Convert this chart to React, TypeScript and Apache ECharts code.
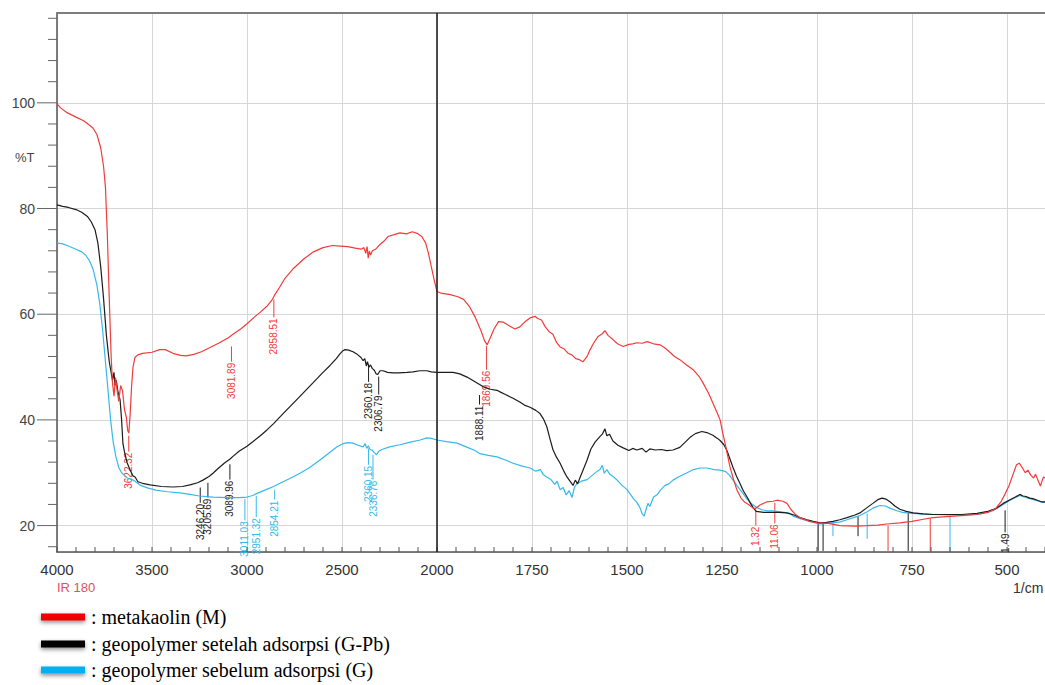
import React, { useEffect, useRef } from "react";
import * as echarts from "echarts";

// ---- axis labels ----
const xTickLabels = ["4000", "3500", "3000", "2500", "2000", "1750", "1500", "1250", "1000", "750", "500"];
const yTickLabels = [20, 40, 60, 80, 100];
const yRange = [15, 117];
const xEndWavenumber = 400;

// ---- spectra: [wavenumber (1/cm), %T] ----
const metakaolin: [number, number][] = [
  [4000, 99.8], [3980, 99.0], [3950, 98.2], [3900, 97.3], [3860, 96.6], [3830, 95.8], [3810, 95.2], [3790, 94.0],
  [3770, 91.5], [3755, 88], [3745, 84], [3735, 75], [3725, 63], [3715, 52], [3708, 47], [3700, 44.5], [3692, 48],
  [3685, 46], [3675, 43.5], [3665, 46.5], [3655, 45.5], [3645, 42], [3635, 40.5], [3628, 38], [3622, 37.5],
  [3615, 41], [3608, 46], [3600, 50], [3590, 51.8], [3575, 52.3], [3550, 52.6], [3500, 52.8], [3460, 53.3],
  [3430, 53.3], [3390, 52.6], [3350, 52.2], [3320, 52.1], [3280, 52.4], [3240, 52.9], [3200, 53.6], [3150, 54.5],
  [3100, 55.5], [3070, 56.3], [3030, 57.3], [3000, 58.2], [2960, 59.5], [2930, 60.4], [2895, 61.5], [2870, 62.6],
  [2855, 63.6], [2830, 65], [2800, 66.8], [2760, 68.5], [2700, 70.5], [2650, 71.8], [2600, 72.6], [2550, 73.0],
  [2510, 72.9], [2470, 72.8], [2430, 72.5], [2400, 72.3], [2385, 72.6], [2375, 71.5], [2368, 72.8], [2362, 70.6],
  [2356, 72.0], [2350, 71.2], [2340, 72.0], [2320, 72.4], [2300, 73.2], [2280, 73.8], [2258, 74.7], [2230, 75.0],
  [2195, 75.4], [2160, 75.2], [2130, 75.6], [2105, 75.3], [2080, 74.7], [2060, 73.5], [2045, 71.5], [2030, 69],
  [2015, 66.5], [2000, 64.3],
  [1990, 64.0], [1965, 63.7], [1945, 63.3], [1930, 62.8], [1915, 61.5], [1900, 59.5], [1885, 57], [1875, 55],
  [1868, 54.2], [1860, 55.5], [1850, 57.2], [1838, 58.6], [1825, 58.5], [1810, 57.8], [1795, 57.2], [1782, 57.6],
  [1768, 58.6], [1755, 59.3], [1742, 59.6], [1735, 59.2], [1725, 58.9], [1715, 57.6], [1705, 56.7], [1695, 56.2],
  [1685, 54.6], [1676, 53.8], [1665, 53.4], [1655, 52.6], [1645, 52.3], [1635, 51.6], [1625, 51.4], [1616, 51.0],
  [1605, 52.0], [1597, 53.3], [1588, 54.5], [1576, 55.8], [1565, 56.3], [1558, 56.9], [1550, 56.0], [1537, 55.2],
  [1525, 54.4], [1510, 53.9], [1495, 54.3], [1485, 54.4], [1474, 54.6], [1460, 54.5], [1447, 54.8], [1430, 54.4],
  [1413, 54.2], [1400, 53.6], [1387, 52.8], [1375, 52.0], [1361, 51.4], [1345, 50.5], [1326, 49.5], [1310, 48.2],
  [1300, 47], [1285, 45], [1274, 43.2], [1262, 41.2], [1255, 40], [1248, 37.5], [1242, 35.6], [1235, 33.2],
  [1229, 31.1], [1220, 28.8], [1211, 26.8], [1200, 25.2], [1190, 24.4], [1180, 24.0], [1170, 23.4], [1163, 23.2],
  [1150, 23.9], [1132, 24.5], [1116, 24.6], [1105, 24.8], [1090, 24.6], [1079, 24.2], [1068, 23.0], [1058, 22.2],
  [1045, 21.5], [1020, 20.8], [1000, 20.5], [970, 20.4], [940, 20.0], [900, 19.9], [868, 20.0], [840, 20.1],
  [816, 20.3], [782, 20.5], [750, 20.8], [720, 21.2], [695, 21.5], [660, 21.7], [620, 21.9], [579, 22.1],
  [550, 22.5], [530, 23.2], [515, 24.6], [505, 26], [495, 27.5], [485, 29.5], [475, 31.5], [468, 31.8],
  [460, 31.0], [452, 30.0], [445, 30.5], [437, 29.5], [430, 29.0], [425, 29.7], [418, 28.5], [412, 27.5],
  [408, 28.4], [404, 29.2], [400, 29.0],
];

const geoAfter: [number, number][] = [
  [4000, 80.7], [3970, 80.4], [3940, 80.2], [3900, 79.8], [3870, 79.3], [3840, 78.5], [3820, 77.5], [3800, 76],
  [3785, 73.5], [3770, 69], [3755, 63], [3740, 56], [3725, 51], [3715, 49], [3708, 47.5], [3700, 49], [3695, 46.5],
  [3688, 47.5], [3680, 45.5], [3668, 43.8], [3660, 40], [3653, 35.5], [3645, 34], [3632, 32], [3615, 30.5],
  [3600, 29.4], [3589, 29.2], [3574, 28.3], [3550, 28.0], [3510, 27.7], [3450, 27.4], [3389, 27.3], [3340, 27.4],
  [3300, 27.7], [3260, 28.1], [3232, 28.6], [3200, 29.3], [3179, 29.9], [3158, 30.6], [3120, 31.8], [3089, 32.6],
  [3074, 33.1], [3040, 34.1], [3000, 35.0], [2968, 35.9], [2930, 37.0], [2895, 38.1], [2860, 39.3], [2820, 40.8],
  [2774, 42.5], [2720, 44.5], [2653, 47.0], [2600, 49.0], [2563, 50.3], [2530, 51.6], [2511, 52.5], [2495, 53.1],
  [2484, 53.3], [2465, 53.2], [2442, 52.9], [2420, 52.4], [2400, 51.8], [2389, 51.2], [2380, 51.6], [2372, 50.2],
  [2366, 51.0], [2358, 50.0], [2350, 50.4], [2340, 49.7], [2330, 49.4], [2320, 48.7], [2312, 48.6], [2300, 49.3],
  [2284, 49.3], [2260, 49.0], [2230, 48.9], [2200, 48.9], [2158, 49.0], [2126, 49.1], [2090, 49.3], [2053, 49.3],
  [2030, 49.1], [2000, 49.0],
  [1975, 49.0], [1958, 49.0], [1940, 48.7], [1921, 48.1], [1900, 47.2], [1879, 46.3], [1860, 45.8], [1842, 45.6],
  [1834, 45.3], [1820, 44.8], [1800, 44.1], [1782, 43.4], [1770, 42.8], [1755, 42.4], [1740, 41.8], [1729, 41.2],
  [1720, 40.2], [1711, 38.7], [1703, 36.5], [1695, 34.4], [1686, 33.0], [1676, 31.8], [1667, 30.4], [1658, 29.2],
  [1650, 28.4], [1642, 27.6], [1636, 28.6], [1630, 27.9], [1624, 29.0], [1615, 30.6], [1605, 32.4], [1595, 34.5],
  [1584, 35.8], [1572, 36.8], [1565, 37.3], [1558, 38.3], [1553, 37.0], [1546, 37.3], [1537, 36.0], [1524, 35.2],
  [1510, 34.7], [1495, 34.2], [1485, 34.6], [1474, 34.3], [1460, 34.6], [1450, 33.9], [1440, 34.5], [1425, 34.3],
  [1410, 34.4], [1395, 34.2], [1379, 34.3], [1361, 34.8], [1348, 35.7], [1334, 36.7], [1320, 37.4], [1303, 37.8],
  [1290, 37.6], [1274, 37.1], [1262, 36.5], [1255, 36.1], [1245, 35.3], [1237, 34.2], [1229, 32.6], [1221, 31.0],
  [1212, 29.4], [1203, 28.0], [1194, 26.6], [1184, 25.4], [1175, 24.2], [1168, 23.4], [1160, 22.7], [1140, 22.5],
  [1120, 22.5], [1100, 22.5], [1080, 22.4], [1060, 22.0], [1045, 21.5], [1026, 21.1], [1010, 20.8], [992, 20.5],
  [975, 20.6], [958, 20.8], [940, 21.1], [921, 21.5], [900, 22.0], [887, 22.4], [870, 23.3], [853, 24.2],
  [840, 24.9], [829, 25.2], [818, 25.0], [808, 24.5], [795, 23.7], [782, 23.1], [765, 22.7], [747, 22.4],
  [720, 22.2], [695, 22.1], [660, 22.1], [620, 22.1], [579, 22.3], [550, 22.7], [530, 23.2], [510, 24.2],
  [492, 24.9], [478, 25.4], [466, 25.9], [458, 25.6], [450, 25.5], [440, 25.2], [432, 25.1], [420, 24.8],
  [410, 24.5], [400, 24.5],
];

const geoBefore: [number, number][] = [
  [4000, 73.5], [3970, 73.3], [3940, 72.9], [3900, 72.3], [3870, 71.8], [3850, 71.2], [3830, 70.2], [3810, 68.5],
  [3790, 65.5], [3775, 62], [3760, 57], [3745, 51], [3730, 45], [3718, 40], [3705, 36], [3690, 33], [3675, 31],
  [3660, 30], [3645, 29.5], [3630, 29.0], [3610, 28.8], [3600, 28.6], [3589, 28.4], [3560, 27.6], [3520, 27.1],
  [3480, 26.7], [3420, 26.4], [3353, 26.2], [3300, 25.9], [3250, 25.6], [3179, 25.4], [3100, 25.3], [3040, 25.3],
  [3000, 25.4], [2970, 25.7], [2947, 26.1], [2900, 26.8], [2860, 27.4], [2826, 28.0], [2780, 28.8], [2721, 29.9],
  [2670, 31.0], [2616, 32.4], [2570, 33.7], [2526, 34.9], [2495, 35.5], [2470, 35.7], [2442, 35.6], [2415, 35.2],
  [2389, 34.9], [2378, 35.5], [2370, 34.6], [2362, 35.1], [2352, 34.4], [2342, 34.3], [2330, 33.8], [2318, 33.4],
  [2308, 34.0], [2290, 34.4], [2250, 34.9], [2195, 35.3], [2140, 35.8], [2089, 36.2], [2053, 36.6], [2030, 36.5],
  [2000, 36.2],
  [1975, 35.9], [1947, 35.6], [1920, 34.8], [1900, 34.2], [1887, 33.6], [1865, 33.3], [1842, 33.0], [1820, 32.4],
  [1800, 31.8], [1778, 31.3], [1755, 30.9], [1740, 30.3], [1728, 30.6], [1720, 29.6], [1711, 29.2], [1700, 28.7],
  [1690, 27.8], [1684, 28.4], [1676, 26.8], [1668, 27.2], [1660, 25.8], [1652, 26.6], [1645, 25.3], [1638, 27.3],
  [1632, 27.9], [1620, 28.4], [1605, 28.7], [1590, 29.6], [1578, 30.3], [1571, 30.6], [1565, 31.4], [1560, 29.9],
  [1553, 30.6], [1545, 29.7], [1535, 29.2], [1526, 28.6], [1513, 27.6], [1500, 26.8], [1490, 25.8], [1482, 25.0],
  [1474, 24.4], [1466, 23.4], [1460, 22.2], [1455, 21.8], [1450, 23.0], [1445, 24.2], [1440, 23.6], [1430, 25.4],
  [1420, 25.9], [1413, 26.6], [1400, 27.6], [1390, 27.9], [1379, 28.6], [1365, 29.2], [1342, 30.0], [1325, 30.6],
  [1308, 30.9], [1290, 30.9], [1270, 30.6], [1255, 30.5], [1240, 30.2], [1230, 29.5], [1221, 28.6], [1210, 27.5],
  [1195, 26.1], [1184, 25.0], [1170, 24.0], [1158, 23.4], [1145, 23.0], [1132, 22.8], [1116, 22.8], [1095, 22.6],
  [1071, 22.3], [1063, 21.8], [1040, 21.2], [1018, 20.8], [992, 20.3], [970, 20.4], [939, 20.7], [921, 21.1],
  [900, 21.6], [887, 21.9], [868, 22.6], [850, 23.4], [834, 23.8], [820, 23.7], [808, 23.3], [790, 22.8],
  [775, 22.5], [763, 22.4], [730, 22.2], [695, 22.1], [650, 22.0], [605, 22.0], [570, 22.2], [537, 22.8],
  [510, 24.0], [492, 24.8], [478, 25.3], [466, 25.7], [455, 25.4], [440, 25.1], [425, 24.8], [410, 24.5],
  [400, 24.4],
];

// ---- peak picks: [label, wavenumber, %T at line top, %T at label top, series] ----
const peakPicks: [string, number, number, number, string][] = [
  ["3622.32", 3622.32, 37.0, 34.0, "M"],
  ["3081.89", 3081.89, 53.9, 51.0, "M"],
  ["2858.51", 2858.51, 62.8, 59.4, "M"],
  ["1869.56", 1869.56, 54.0, 49.5, "M"],
  ["1.32", 1161, 23.0, 20.0, "M"],
  ["11.06", 1111, 24.3, 20.4, "M"],
  ["", 813, 20.0, 15.2, "M"],
  ["", 702, 21.3, 15.2, "M"],
  ["3246.20", 3246.2, 27.2, 24.3, "GPb"],
  ["3205.69", 3205.69, 28.1, 25.3, "GPb"],
  ["3089.96", 3089.96, 31.6, 28.7, "GPb"],
  ["2360.18", 2360.18, 50.5, 47.2, "GPb"],
  ["2306.79", 2306.79, 48.2, 44.8, "GPb"],
  ["1888.11", 1888.11, 44.7, 42.9, "GPb"],
  ["", 997, 20.3, 15.2, "GPb"],
  ["", 984, 20.3, 15.2, "GPb"],
  ["", 892, 21.8, 18.0, "GPb"],
  ["", 760, 22.5, 15.2, "GPb"],
  ["1.49", 505, 22.9, 18.7, "GPb"],
  ["3011.03", 3011.03, 25.0, 21.0, "G"],
  ["2951.32", 2951.32, 25.6, 21.6, "G"],
  ["2854.21", 2854.21, 26.8, 24.9, "G"],
  ["2360.15", 2360.15, 34.6, 31.5, "G"],
  ["2336.76", 2336.76, 33.4, 28.7, "G"],
  ["", 958, 20.6, 18.0, "G"],
  ["", 868, 22.3, 17.5, "G"],
  ["", 650, 21.8, 15.2, "G"],
];

const seriesNames = ["metakaolin (M)", "geopolymer setelah adsorpsi (G-Pb)", "geopolymer sebelum adsorpsi (G)"];
const lineColors: Record<string, string> = { M: "#f23b3b", GPb: "#1c1c1c", G: "#35b9ec" };
const legendColors = ["#ee0000", "#000000", "#00b0f0"];

// broken wavenumber scale: 500 /cm per division above 2000, 250 /cm per division below
const toU = (w: number) => (w >= 2000 ? (4000 - w) / 500 : 4 + (2000 - w) / 250);

const SANS = "'Liberation Sans', Arial, sans-serif";
const SERIF = "'Liberation Serif', 'Times New Roman', serif";

export default function App() {
  const ref = useRef<HTMLDivElement>(null);

  useEffect(() => {
    if (!ref.current) return;
    const chart = echarts.init(ref.current, undefined, { renderer: "svg" });

    const xMax = toU(xEndWavenumber);
    // tick positions (axis decoration only)
    const xTicks: number[] = [];
    for (let i = 0; i <= 52; i++) xTicks.push(i / 5);
    const yTicks: [number, number][] = [];
    for (let v = 16; v <= 116; v += 4) yTicks.push([v, v % 20 === 0 ? 20 : 9]);

    const mkLine = (name: string, data: [number, number][], color: string, extra: any = {}) => ({
      type: "line",
      name,
      data: data.map(([w, t]) => [toU(w), t]),
      showSymbol: false,
      symbol: "none",
      lineStyle: { color, width: 1.2 },
      itemStyle: { color },
      emphasis: { disabled: true },
      ...extra,
    });

    const rowY = [617, 644, 670];
    const legendGraphics: any[] = [];
    seriesNames.forEach((n, i) => {
      legendGraphics.push({
        type: "rect",
        x: 41,
        y: rowY[i] - 3.5,
        shape: { width: 44, height: 7 },
        style: { fill: legendColors[i], shadowBlur: 4, shadowColor: "rgba(0,0,0,0.45)", shadowOffsetY: 2 },
      });
      legendGraphics.push({
        type: "text",
        x: 91,
        y: rowY[i],
        style: { text: ": " + n, fontSize: 20, fontFamily: SERIF, fill: "#000", verticalAlign: "middle" },
      });
    });

    const option: any = {
      animation: false,
      backgroundColor: "#ffffff",
      grid: { left: 57, right: 0, top: 13, bottom: 133, containLabel: false },
      xAxis: [
        {
          type: "value",
          min: 0,
          max: xMax,
          interval: 1,
          position: "bottom",
          axisLine: { show: true, lineStyle: { color: "#555", width: 1.5 } },
          axisTick: { show: false },
          axisLabel: {
            showMaxLabel: false,
            formatter: (v: number) => (Math.abs(v - Math.round(v)) < 1e-6 ? xTickLabels[Math.round(v)] ?? "" : ""),
            fontSize: 15,
            color: "#333",
            margin: 10,
            fontFamily: SANS,
          },
          splitLine: { show: true, lineStyle: { color: "#d6d6d6", width: 1 } },
        },
        {
          type: "value",
          min: 0,
          max: xMax,
          position: "top",
          axisLine: { show: true, lineStyle: { color: "#7d7d7d", width: 2 } },
          axisTick: { show: false },
          axisLabel: { show: false },
          splitLine: { show: false },
        },
      ],
      yAxis: [
        {
          type: "value",
          min: yRange[0],
          max: yRange[1],
          splitNumber: 5,
          position: "left",
          axisLine: { show: true, lineStyle: { color: "#555", width: 1.5 } },
          axisTick: { show: false },
          axisLabel: {
            showMinLabel: false,
            showMaxLabel: false,
            formatter: (v: number) => (yTickLabels.includes(v) ? String(v) : ""),
            fontSize: 14,
            color: "#444",
            margin: 22,
            fontFamily: SANS,
          },
          splitLine: { show: true, lineStyle: { color: "#d6d6d6", width: 1 } },
        },
      ],
      graphic: [
        { type: "text", left: 15, top: 151, style: { text: "%T", fontSize: 13, fill: "#444", fontFamily: SANS } },
        { type: "text", left: 57, top: 581, style: { text: "IR 180", fontSize: 13, fill: "#e0505f", fontFamily: SANS } },
        { type: "text", left: 1013, top: 581, style: { text: "1/cm", fontSize: 14, fill: "#333", fontFamily: SANS } },
        ...legendGraphics,
      ],
      series: [
        mkLine(seriesNames[2], geoBefore, lineColors.G),
        mkLine(seriesNames[1], geoAfter, lineColors.GPb, {
          markLine: {
            silent: true,
            symbol: ["none", "none"],
            label: { show: false },
            lineStyle: { color: "#222", width: 1.6, type: "solid" },
            emphasis: { disabled: true },
            data: [{ xAxis: toU(2000) }],
          },
        }),
        mkLine(seriesNames[0], metakaolin, lineColors.M),
        {
          type: "custom",
          name: "peaks",
          clip: false,
          silent: true,
          data: peakPicks.map(([, w, t1, t2]) => [toU(w), t1, t2]),
          encode: { x: 0, y: [1, 2] },
          renderItem: (params: any, api: any) => {
            const pk = peakPicks[params.dataIndex];
            const color = lineColors[pk[4]];
            const top = api.coord([api.value(0), api.value(1)]);
            const bot = api.coord([api.value(0), api.value(2)]);
            const children: any[] = [
              { type: "line", shape: { x1: top[0], y1: top[1], x2: bot[0], y2: bot[1] }, style: { stroke: color, lineWidth: 1 } },
            ];
            if (pk[0]) {
              children.push({
                type: "text",
                x: bot[0],
                y: bot[1] + 1,
                rotation: Math.PI / 2,
                style: { text: pk[0], fill: color, fontSize: 10, fontFamily: SANS, align: "right", verticalAlign: "middle" },
              });
            }
            return { type: "group", children };
          },
        },
        {
          type: "custom",
          name: "xTicks",
          clip: false,
          silent: true,
          data: xTicks.map((u) => [u, yRange[0]]),
          renderItem: (params: any, api: any) => {
            const p = api.coord([api.value(0), api.value(1)]);
            return { type: "line", shape: { x1: p[0], y1: p[1], x2: p[0], y2: p[1] - 5 }, style: { stroke: "#555", lineWidth: 1 } };
          },
        },
        {
          type: "custom",
          name: "yTicks",
          clip: false,
          silent: true,
          data: yTicks.map(([v, len]) => [0, v, len]),
          renderItem: (params: any, api: any) => {
            const p = api.coord([api.value(0), api.value(1)]);
            const len = api.value(2);
            return { type: "line", shape: { x1: p[0] - len, y1: p[1], x2: p[0], y2: p[1] }, style: { stroke: "#666", lineWidth: 1 } };
          },
        },
      ],
    };

    chart.setOption(option);
    return () => chart.dispose();
  }, []);

  return (
    <div
      ref={ref}
      style={{ position: "absolute", left: 0, top: 0, width: 1045, height: 685, background: "#fff" }}
    />
  );
}
